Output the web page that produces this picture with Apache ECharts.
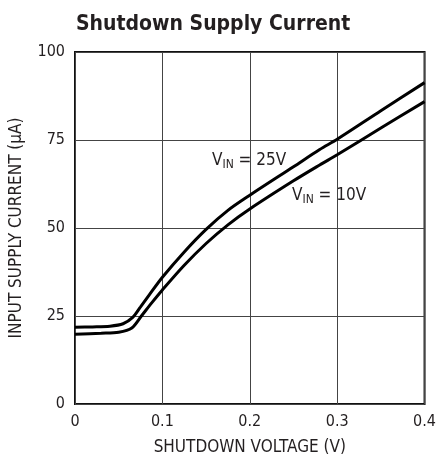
<!DOCTYPE html>
<html>
<head>
<meta charset="utf-8">
<script src="https://cdn.jsdelivr.net/npm/echarts@6/dist/echarts.min.js"></script>
<style>
  html, body { margin: 0; padding: 0; background: #fff; }
  #chart { width: 439px; height: 464px; }
</style>
</head>
<body>
<div id="chart"></div>
<script>
// 读图得到的数据 (shutdown voltage V, supply current µA)
const xTicks = [0, 0.1, 0.2, 0.3, 0.4];
const yTicks = [0, 25, 50, 75, 100];

const vin25 = [
	[0, 21.8], [0.02, 21.9], [0.04, 22.1], [0.055, 22.8], [0.066, 24.6],
	[0.075, 27.6], [0.085, 31.0], [0.1, 36.0], [0.125, 43.2], [0.15, 49.6],
	[0.175, 55.0], [0.2, 59.3], [0.25, 67.4], [0.28, 72.3], [0.3, 75.2],
	[0.35, 83.3], [0.4, 91.3],
];
const vin10 = [
	[0, 19.8], [0.03, 20.1], [0.05, 20.4], [0.065, 21.6], [0.076, 25.0],
	[0.088, 28.8], [0.1, 32.4], [0.125, 39.4], [0.15, 45.6], [0.175, 50.9],
	[0.2, 55.4], [0.25, 63.4], [0.28, 67.9], [0.3, 70.8], [0.35, 78.4],
	[0.4, 85.9],
];

const FONT = "'Liberation Sans Narrow', 'Arial Narrow', 'DejaVu Sans Condensed', 'Liberation Sans', sans-serif";
const chart = echarts.init(document.getElementById('chart'));

const option = {
	animation: false,
	backgroundColor: '#fff',
	title: {
		text: 'Shutdown Supply Current',
		left: 71,
		top: 9,
		textStyle: { fontFamily: FONT, fontWeight: 'bold', fontSize: 21, color: '#231f20' },
	},
	grid: {
		left: 73, right: 14, top: 52, bottom: 60,
		show: true, borderColor: '#111', borderWidth: 2,
	},
	xAxis: {
		type: 'value',
		min: xTicks[0],
		max: xTicks[xTicks.length - 1],
		interval: 0.1,
		name: 'SHUTDOWN VOLTAGE (V)',
		nameLocation: 'middle',
		nameGap: 35,
		nameTextStyle: { fontFamily: FONT, fontSize: 17, color: '#231f20' },
		axisLine: { show: false },
		axisTick: { show: false },
		axisLabel: {
			margin: 10, fontFamily: FONT, fontSize: 16, color: '#231f20',
			formatter: v => (v === 0 ? '0' : v.toFixed(1)),
		},
		splitLine: { show: true, lineStyle: { color: '#444', width: 1 } },
	},
	yAxis: {
		type: 'value',
		min: yTicks[0],
		max: yTicks[yTicks.length - 1],
		interval: 25,
		name: 'INPUT SUPPLY CURRENT (µA)',
		nameLocation: 'middle',
		nameGap: 50,
		nameTextStyle: { fontFamily: FONT, fontSize: 17, color: '#231f20' },
		axisLine: { show: false },
		axisTick: { show: false },
		axisLabel: { margin: 10, fontFamily: FONT, fontSize: 16, color: '#231f20' },
		splitLine: { show: true, lineStyle: { color: '#444', width: 1 } },
	},
	series: [
		{
			name: 'VIN = 25V', type: 'line', data: vin25, smooth: 0.3,
			symbol: 'none', lineStyle: { color: '#000', width: 3 },
		},
		{
			name: 'VIN = 10V', type: 'line', data: vin10, smooth: 0.3,
			symbol: 'none', lineStyle: { color: '#000', width: 3 },
		},
	],
	graphic: [
		{
			type: 'text', left: 212, top: 152,
			style: {
				text: '{a|V}{b|IN}{a| = 25V}',
				rich: {
					a: { fontFamily: FONT, fontSize: 17, fill: '#231f20' },
					b: { fontFamily: FONT, fontSize: 12, fill: '#231f20', padding: [9, 0, 0, 0] },
				},
			},
		},
		{
			type: 'text', left: 292, top: 187,
			style: {
				text: '{a|V}{b|IN}{a| = 10V}',
				rich: {
					a: { fontFamily: FONT, fontSize: 17, fill: '#231f20' },
					b: { fontFamily: FONT, fontSize: 12, fill: '#231f20', padding: [9, 0, 0, 0] },
				},
			},
		},
	],
};

chart.setOption(option);
</script>
</body>
</html>
